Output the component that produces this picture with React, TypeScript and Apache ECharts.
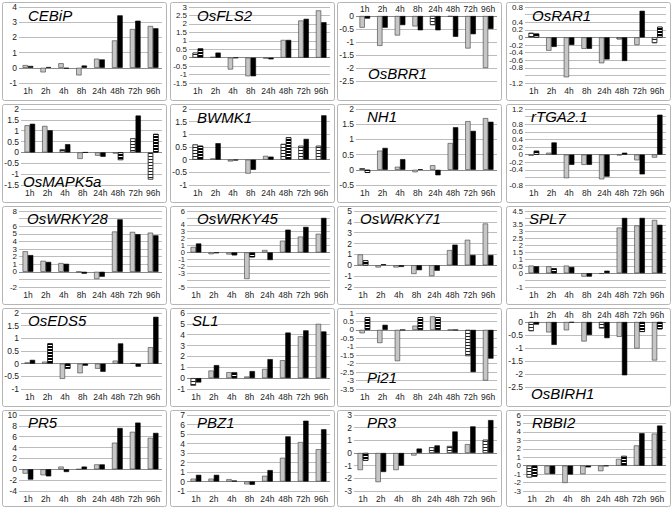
import React, { useEffect, useRef } from 'react';
import * as echarts from 'echarts';

const categories = ['1h', '2h', '4h', '8h', '24h', '48h', '72h', '96h'];
const geneNames = ['CEBiP', 'OsFLS2', 'OsBRR1', 'OsRAR1', 'OsMAPK5a', 'BWMK1', 'NH1', 'rTGA2.1', 'OsWRKY28', 'OsWRKY45', 'OsWRKY71', 'SPL7', 'OsEDS5', 'SL1', 'Pi21', 'OsBIRH1', 'PR5', 'PBZ1', 'PR3', 'RBBI2'];

const cebipGray = [0.18, -0.3, 0.3, -0.5, 0.6, 1.8, 2.55, 2.75];
const cebipBlack = [0.12, 0.05, -0.05, 0.15, 0.55, 3.45, 3.1, 2.6];
const fls2Gray = [0.3, 0.05, -0.7, -1.1, -0.05, 1.05, 2.2, 2.8];
const fls2Black = [0.55, 0.3, -0.02, -1.1, -0.1, 1.05, 2.3, 2.1];
const brr1Gray = [-0.45, -1.15, -0.75, -0.4, -0.35, -0.02, -1.25, -2.0];
const brr1Black = [-0.1, -0.45, -0.35, -0.55, -0.55, -0.8, -0.7, -0.5];
const rar1Gray = [0.12, -0.35, -1.05, -0.3, -0.68, -0.05, -0.2, -0.15];
const rar1Black = [0.1, -0.25, -0.2, -0.3, -0.58, -0.62, 0.7, 0.28];
const mapk5aGray = [1.25, 1.22, 0.15, -0.3, -0.15, -0.05, 0.65, -1.25];
const mapk5aBlack = [1.32, 1.02, 0.38, 0, -0.2, -0.35, 1.7, 0.85];
const bwmk1Gray = [0.6, 0.05, -0.07, -0.55, 0.15, 0.62, 0.55, 0.55];
const bwmk1Black = [0.55, 0.65, -0.03, -0.4, 0.12, 0.88, 0.82, 1.75];
const nh1Gray = [0.05, 0.63, 0.1, -0.08, 0.15, 0.88, 1.6, 1.7];
const nh1Black = [-0.1, 0.72, 0.35, 0.02, -0.18, 1.4, 1.28, 1.58];
const tga21Gray = [-0.03, 0.05, -0.62, -0.27, -0.65, -0.02, -0.15, -0.08];
const tga21Black = [0.1, 0.32, -0.27, -0.27, -0.58, 0.05, -0.52, 1.05];
const wrky28Gray = [2.7, 1.45, 1.15, 0, -0.95, 5.3, 5.25, 5.15];
const wrky28Black = [2.2, 1.3, 1.05, -0.25, -0.65, 6.9, 4.95, 4.8];
const wrky45Gray = [0.8, -0.25, -0.3, -3.85, 0.35, 1.7, 2.3, 2.7];
const wrky45Black = [1.3, -0.1, -0.4, -0.7, -1.1, 3.3, 3.7, 5.0];
const wrky71Gray = [1.0, -0.2, -0.2, -0.8, -1.0, 1.4, 2.35, 3.85];
const wrky71Black = [0.45, 0.1, -0.15, -0.45, -0.5, 1.9, 0.95, 0.95];
const spl7Gray = [0.55, 0.5, 0.55, -0.25, -0.05, 3.3, 3.45, 3.85];
const spl7Black = [0.5, 0.35, 0.45, -0.25, 0.18, 4.0, 4.0, 3.5];
const eds5Gray = [0.05, 0.08, -0.6, -0.38, -0.2, 0.12, 0.02, 0.65];
const eds5Black = [0.15, 0.8, -0.2, -0.08, -0.32, 0.8, -0.12, 1.85];
const sl1Gray = [-0.7, 0.7, 0.55, 0.15, 0.85, 1.65, 3.85, 5.0];
const sl1Black = [-0.4, 1.2, 0.55, 0.65, 1.75, 4.2, 4.4, 4.3];
const pi21Gray = [-0.2, -0.78, -1.85, 0.25, 0.8, 0, -1.55, -3.0];
const pi21Black = [0.75, 0.3, 0, 0.75, 0.75, 0, -2.5, -1.7];
const birh1Gray = [-0.35, -0.4, -0.32, -0.75, -0.25, -0.57, -1.02, -1.48];
const birh1Black = [-0.1, -0.88, -0.02, -0.5, -0.62, -2.05, -0.38, -0.28];
const pr5Gray = [-0.8, -1.1, 0.5, 0, 0.9, 4.9, 6.9, 5.8];
const pr5Black = [-1.9, -1.3, -0.5, 0.5, 0.9, 7.6, 8.6, 6.7];
const pbz1Gray = [0.3, 0.3, 0.25, -0.3, 0.6, 2.5, 4.15, 3.4];
const pbz1Black = [0.7, 0.7, 0.1, -0.35, 1.2, 4.75, 6.4, 5.5];
const pr3Gray = [-1.35, -2.3, -1.35, -0.2, 0.45, 0.55, 0.7, 1.05];
const pr3Black = [-0.6, -1.5, -1.0, 0.35, 0.6, 1.7, 2.1, 2.6];
const rbbi2Gray = [-1.4, -1.0, -2.05, -1.0, -0.65, 0.8, 2.4, 3.8];
const rbbi2Black = [-1.3, -1.0, -1.05, -0.2, -0.05, 1.15, 3.85, 4.75];

const grayValues = [cebipGray, fls2Gray, brr1Gray, rar1Gray, mapk5aGray, bwmk1Gray, nh1Gray, tga21Gray, wrky28Gray, wrky45Gray, wrky71Gray, spl7Gray, eds5Gray, sl1Gray, pi21Gray, birh1Gray, pr5Gray, pbz1Gray, pr3Gray, rbbi2Gray];
const blackValues = [cebipBlack, fls2Black, brr1Black, rar1Black, mapk5aBlack, bwmk1Black, nh1Black, tga21Black, wrky28Black, wrky45Black, wrky71Black, spl7Black, eds5Black, sl1Black, pi21Black, birh1Black, pr5Black, pbz1Black, pr3Black, rbbi2Black];

// indices of striped (hatched) bars per gene
const grayStriped = [[], [0], [4], [0, 5, 7], [2, 6, 7], [0, 5, 6, 7], [0], [], [], [], [], [], [], [0], [6], [0, 4], [], [], [4, 5, 7], [0]];
const blackStriped = [[], [0], [], [0, 7], [5, 7], [0, 5], [0], [0], [], [2, 3], [0], [1], [1, 2], [2], [0, 3, 4], [6, 7], [], [], [0], [0, 5]];

// y axis tick settings
const yMin = [-1, -1.5, -2.5, -1.2, -1.5, -1, -0.5, -0.8, -2, -5, -2, -1, -1, -1, -3.5, -2.5, -4, -1, -3, -3];
const yMax = [4, 3, 0, 0.8, 2, 2, 2, 1.2, 8, 6, 5, 4.5, 2, 6, 1, 0, 10, 7, 3, 6];
const yStep = [1, 0.5, 0.5, 0.2, 0.5, 0.5, 0.5, 0.2, 1, 1, 1, 0.5, 0.5, 1, 0.5, 0.5, 2, 1, 1, 1];

// layout
const panelLeft = [2, 170, 337, 506];
const panelTop = [2, 104, 206, 308, 410];
const titleX = [26, 27, 31, 26, 21, 27, 30, 25, 25, 27, 23, 23, 26, 22, 30, 25, 26, 27, 30, 26];
const titleY = [13, 13, 71, 13, 77, 13, 12, 12, 12, 12, 12, 12, 12, 12, 69, 85, 12, 12, 12, 12];

const FONT = '"Liberation Sans", Arial, Helvetica, sans-serif';

function yAxisLabelLen(i: number) {
  let maxLen = 0;
  const n = Math.round((yMax[i] - yMin[i]) / yStep[i]);
  for (let k = 0; k <= n; k++) {
    const v = Math.round((yMin[i] + k * yStep[i]) * 10) / 10;
    maxLen = Math.max(maxLen, String(v).length);
  }
  return maxLen;
}

function buildOption() {
  const grids: any[] = [];
  const xAxes: any[] = [];
  const yAxes: any[] = [];
  const series: any[] = [];
  const graphics: any[] = [];

  geneNames.forEach((name, i) => {
    const col = i % 4;
    const row = Math.floor(i / 4);
    const px = panelLeft[col];
    const py = panelTop[row];
    const labelsTop = yMax[i] === 0;
    const longLabels = yAxisLabelLen(i) >= 4;
    const left = longLabels ? 19 : 17;
    const plotH = labelsTop ? 65 : 76;
    const nTicks = Math.round((yMax[i] - yMin[i]) / yStep[i]);
    const spacing = plotH / nTicks;
    grids.push({
      left: px + left,
      top: py + (labelsTop ? 14 : 5),
      width: 160 - left,
      height: plotH,
    });
    xAxes.push({
      type: 'category',
      gridIndex: i,
      data: categories,
      position: labelsTop ? 'top' : 'bottom',
      axisLine: { show: false, onZero: false },
      axisTick: { show: false },
      axisLabel: { interval: 0, fontSize: 8.5, fontFamily: FONT, color: '#222', margin: 3, hideOverlap: false },
    });
    yAxes.push({
      type: 'value',
      gridIndex: i,
      min: yMin[i],
      max: yMax[i],
      interval: yStep[i],
      axisLine: { show: false },
      axisTick: { show: false },
      axisLabel: {
        fontSize: spacing < 7.5 ? 7.5 : spacing < 8.5 ? 8 : 8.5,
        lineHeight: Math.min(10, Math.floor(spacing)),
        fontFamily: FONT,
        color: '#222',
        margin: 2,
        showMinLabel: true,
        showMaxLabel: true,
        hideOverlap: false,
        formatter: (v: number) => String(Math.round(v * 10) / 10),
      },
      splitLine: { lineStyle: { color: '#bcbcbc', width: 1 } },
    });
    series.push({
      type: 'bar',
      xAxisIndex: i,
      yAxisIndex: i,
      barGap: '0%',
      barCategoryGap: '40%',
      itemStyle: { color: '#c6c6c6', borderColor: '#3c3c3c', borderWidth: 0.6 },
      data: grayValues[i].map((v, j) =>
        grayStriped[i].includes(j)
          ? {
              value: v,
              itemStyle: {
                color: '#ffffff',
                decal: { symbol: 'rect', symbolSize: 1, dashArrayX: [1, 0], dashArrayY: [1, 2], rotation: 0, color: '#222' },
              },
            }
          : v
      ),
      markLine: {
        silent: true,
        symbol: 'none',
        label: { show: false },
        lineStyle: { color: '#8a8a8a', width: 1, type: 'solid' },
        data: [{ yAxis: 0 }],
        z: 1,
      },
    });
    series.push({
      type: 'bar',
      xAxisIndex: i,
      yAxisIndex: i,
      barGap: '0%',
      barCategoryGap: '40%',
      itemStyle: { color: '#000000', borderColor: '#000000', borderWidth: 0.6 },
      data: blackValues[i].map((v, j) =>
        blackStriped[i].includes(j)
          ? {
              value: v,
              itemStyle: {
                color: '#000000',
                decal: { symbol: 'rect', symbolSize: 1, dashArrayX: [1, 0], dashArrayY: [1, 2], rotation: 0, color: '#ffffff' },
              },
            }
          : v
      ),
    });
    graphics.push({
      type: 'rect',
      shape: { x: px + 0.5, y: py + 0.5, width: 164, height: row === 4 ? 96 : 98, r: 2 },
      style: { fill: 'none', stroke: '#b5b5b5', lineWidth: 1 },
      z: 0,
    });
    graphics.push({
      type: 'text',
      x: px + titleX[i],
      y: py + titleY[i],
      style: {
        text: name,
        fontSize: 15,
        fontStyle: 'italic',
        fontFamily: FONT,
        fill: '#000',
        verticalAlign: 'middle',
      },
      z: 10,
    });
  });

  return {
    animation: false,
    backgroundColor: '#ffffff',
    grid: grids,
    xAxis: xAxes,
    yAxis: yAxes,
    series,
    graphic: { elements: graphics },
  };
}

export default function App() {
  const ref = useRef<HTMLDivElement>(null);
  useEffect(() => {
    if (!ref.current) return;
    const chart = echarts.init(ref.current, undefined, { renderer: 'svg' });
    chart.setOption(buildOption() as any);
    return () => chart.dispose();
  }, []);
  return (
    <div
      ref={ref}
      style={{ position: 'fixed', left: 0, top: 0, width: 671, height: 508, background: '#fff' }}
    />
  );
}
